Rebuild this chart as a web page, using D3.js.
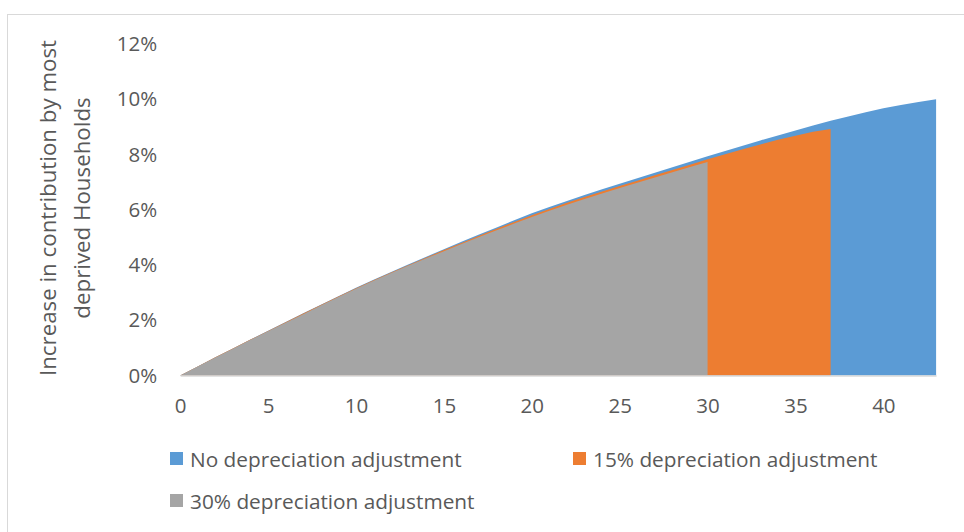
<!DOCTYPE html>
<html>
<head>
<meta charset="utf-8">
<script src="https://cdn.jsdelivr.net/npm/d3@7"></script>
<style>
  html, body { margin: 0; padding: 0; background: #fff; }
  svg { display: block; font-family: "Open Sans", sans-serif; }
</style>
</head>
<body>
<svg id="chart" width="964" height="532"></svg>
<script>
// Years since start
const years = d3.range(0, 44);

// Increase in contribution (%), per year, for each depreciation scenario
const noDepreciation = [
  0, 0.33, 0.66, 0.98, 1.30, 1.62, 1.94, 2.25, 2.56, 2.87,
  3.18, 3.47, 3.75, 4.03, 4.30, 4.57, 4.84, 5.10, 5.36, 5.62,
  5.87, 6.10, 6.32, 6.53, 6.74, 6.94, 7.14, 7.34, 7.54, 7.74,
  7.94, 8.13, 8.32, 8.51, 8.69, 8.87, 9.05, 9.22, 9.38, 9.53,
  9.67, 9.79, 9.90, 10.00
];
const depreciation15 = [
  0, 0.33, 0.66, 0.98, 1.30, 1.61, 1.93, 2.24, 2.55, 2.86,
  3.16, 3.45, 3.73, 4.00, 4.27, 4.54, 4.80, 5.06, 5.31, 5.56,
  5.80, 6.03, 6.25, 6.46, 6.66, 6.86, 7.05, 7.25, 7.44, 7.63,
  7.83, 8.01, 8.19, 8.36, 8.53, 8.68, 8.82, 8.92
];
const depreciation30 = [
  0, 0.33, 0.65, 0.97, 1.29, 1.60, 1.91, 2.22, 2.53, 2.84,
  3.14, 3.43, 3.71, 3.98, 4.24, 4.50, 4.76, 5.01, 5.26, 5.50,
  5.74, 5.96, 6.18, 6.39, 6.59, 6.79, 6.98, 7.17, 7.36, 7.55,
  7.73
];

const seriesNames = ["No depreciation adjustment", "15% depreciation adjustment", "30% depreciation adjustment"];
const seriesColors = ["#5B9BD5", "#ED7D31", "#A5A5A5"];
const xTicks = [0, 5, 10, 15, 20, 25, 30, 35, 40];
const yTicks = [0, 2, 4, 6, 8, 10, 12];
const yTitleLines = ["Increase in contribution by most", "deprived Households"];

const svg = d3.select("#chart");
const textColor = "#595959";

// outer chart frame
svg.append("rect")
  .attr("x", 7.5).attr("y", 14.5)
  .attr("width", 970).attr("height", 540)
  .attr("fill", "none").attr("stroke", "#d9d9d9").attr("stroke-width", 1);

const x = d3.scaleLinear().domain([0, 43]).range([180.2, 936.1]);
const y = d3.scaleLinear().domain([0, 12]).range([375.5, 44]);

const area = d3.area()
  .x(d => x(d[0]))
  .y0(y(0))
  .y1(d => y(d[1]));

const allSeries = [noDepreciation, depreciation15, depreciation30];
allSeries.forEach((vals, i) => {
  svg.append("path")
    .datum(vals.map((v, k) => [years[k], v]))
    .attr("fill", seriesColors[i])
    .attr("d", area);
});

// x axis
const xAxis = svg.append("g")
  .attr("transform", `translate(0,${y(0)})`)
  .call(d3.axisBottom(x).tickValues(xTicks).tickSize(0).tickSizeOuter(0).tickPadding(23));
xAxis.select(".domain").attr("stroke", "#d9d9d9").attr("stroke-width", 1.5);
xAxis.selectAll("text")
  .attr("fill", textColor)
  .style("font-size", "20.5px")
  .style("font-family", "'Open Sans', sans-serif");

// y axis
const yAxis = svg.append("g")
  .attr("transform", `translate(${x(0)},0)`)
  .call(d3.axisLeft(y).tickValues(yTicks).tickSize(0).tickPadding(23).tickFormat(d => d + "%"));
yAxis.select(".domain").remove();
yAxis.selectAll("text")
  .attr("fill", textColor)
  .style("font-size", "20.5px")
  .style("font-family", "'Open Sans', sans-serif");

// y axis title
const yTitle = svg.append("text")
  .attr("transform", "translate(48,208) rotate(-90)")
  .attr("text-anchor", "middle")
  .attr("fill", textColor)
  .style("font-size", "22.3px");
yTitleLines.forEach((line, i) => {
  yTitle.append("tspan")
    .attr("x", 0)
    .attr("dy", i === 0 ? "0.35em" : "34px")
    .text(line);
});

// legend
const legendPos = [[170, 452], [573, 452], [170, 494]];
seriesNames.forEach((name, i) => {
  const g = svg.append("g").attr("transform", `translate(${legendPos[i][0]},${legendPos[i][1]})`);
  g.append("rect").attr("width", 13).attr("height", 13).attr("fill", seriesColors[i]);
  g.append("text")
    .attr("x", 20).attr("y", 15)
    .attr("fill", textColor)
    .style("font-size", "20.8px")
    .text(name);
});
</script>
</body>
</html>
